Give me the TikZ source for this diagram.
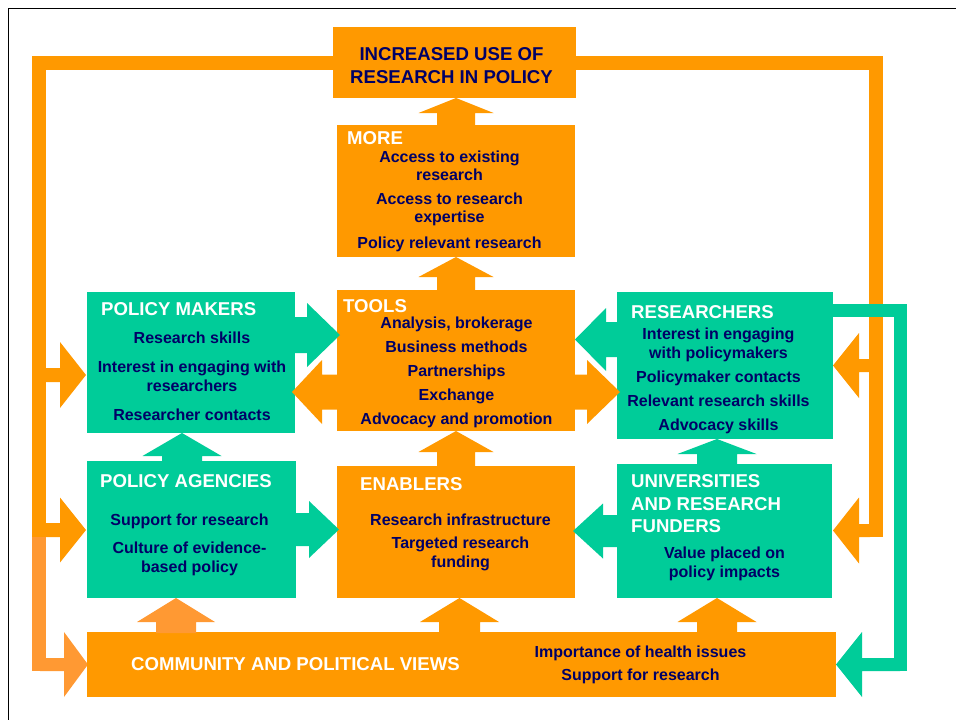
\documentclass[tikz,border=0pt]{standalone}
\usepackage{fontspec}
\setmainfont{Liberation Sans}
\definecolor{og}{HTML}{FF9900}
\definecolor{lo}{HTML}{FF9933}
\definecolor{gr}{HTML}{00CC99}
\definecolor{nv}{HTML}{000066}
% vertical block arrow: color, x centre, y shaft start, y head base, y tip, shaft half width, head half width
\newcommand{\uparr}[7]{\fill[#1] (#2-#6,#3) -- (#2-#6,#4) -- (#2-#7,#4) -- (#2,#5) -- (#2+#7,#4) -- (#2+#6,#4) -- (#2+#6,#3) -- cycle;}
% horizontal block arrow: color, y centre, x shaft start, x head base, x tip, shaft half width, head half width
\newcommand{\harr}[7]{\fill[#1] (#3,#2-#6) -- (#4,#2-#6) -- (#4,#2-#7) -- (#5,#2) -- (#4,#2+#7) -- (#4,#2+#6) -- (#3,#2+#6) -- cycle;}
\begin{document}
\begin{tikzpicture}[x=1pt,y=-1pt,
  box/.style={inner sep=0pt, outer sep=0pt, draw=none},
  ob/.style={box, fill=og},
  gb/.style={box, fill=gr},
  body/.style={font=\fontsize{16}{19}\selectfont\bfseries, text=nv, anchor=base, inner sep=0pt},
  ttl/.style={font=\fontsize{18.6}{22}\selectfont\bfseries, text=nv, anchor=base, inner sep=0pt},
  hd/.style={font=\fontsize{18.6}{22}\selectfont\bfseries, text=white, anchor=base west, inner sep=0pt}]
\useasboundingbox (0,0) rectangle (956,720);
\fill[white] (0,0) rectangle (956,720);
\draw[line width=1.5pt] (8.5,720) -- (8.5,8.5) -- (956,8.5);

% orange feedback loop
\fill[og] (32,56) rectangle (883,70);
\fill[og] (32,56) rectangle (46,537);
\fill[og] (869,56) rectangle (883,537);
\harr{og}{375}{46}{60}{86}{7}{33}
\harr{og}{530}{46}{60}{86}{7}{32.5}
\fill[lo] (32,537) rectangle (46,671);
\harr{lo}{664.5}{40}{64}{88}{6.5}{32.5}
\harr{og}{365.5}{870}{859}{833}{6.5}{32.5}
\harr{og}{530.5}{870}{859}{833}{6.5}{33}

% green feedback loop
\fill[gr] (830,304) rectangle (907,317);
\fill[gr] (894,304) rectangle (907,671);
\harr{gr}{664.5}{900}{862}{836}{6.5}{32.5}

% boxes
\node[ob, minimum width=243, minimum height=71] (top) at (454.5,62.5) {};
\node[ob, minimum width=238, minimum height=132] (more) at (456,191) {};
\node[ob, minimum width=238, minimum height=141] (tools) at (456,360.5) {};
\node[gb, minimum width=208, minimum height=141] (pm) at (191,362.5) {};
\node[gb, minimum width=216, minimum height=147] (res) at (725,365.5) {};
\node[gb, minimum width=209, minimum height=137] (pa) at (191.5,529.5) {};
\node[ob, minimum width=238, minimum height=132] (en) at (456,532) {};
\node[gb, minimum width=215, minimum height=134] (un) at (724.5,531) {};
\node[ob, minimum width=749, minimum height=65] (cm) at (461.5,664.5) {};

% arrows between boxes
\uparr{og}{456}{126}{113}{98}{19}{37.5}
\uparr{og}{456}{291}{277}{257}{19}{37.5}
\uparr{og}{456}{467}{452}{431}{19}{37.5}
\uparr{og}{459.5}{633}{622}{598}{20.5}{39.5}
\uparr{lo}{176}{633}{622}{598}{20}{39}
\uparr{og}{717}{633}{622}{598}{20}{39.5}
\uparr{gr}{717}{465}{454}{439}{20}{39.5}
\uparr{gr}{182}{462}{456}{433}{20}{39.5}
\harr{gr}{335}{294}{307}{340}{18}{32}
\harr{og}{392}{338}{322}{292}{17.5}{32}
\harr{gr}{339.5}{618}{606}{575}{17.5}{31.5}
\harr{og}{392}{574}{587}{620}{17.5}{32}
\harr{gr}{529.5}{295}{309}{339}{16.5}{28.5}
\harr{gr}{531}{618}{603}{573}{16}{27.5}

% texts
\node[ttl] (t1) at (451.5,60) {INCREASED USE OF};
\node[ttl] (t2) at (451.5,83) {RESEARCH IN POLICY};

\node[hd] (moreh) at (347,144) {MORE};
\node[body] (m1) at (449.5,162) {Access to existing};
\node[body] (m2) at (449.5,180) {research};
\node[body] (m3) at (449.5,204) {Access to research};
\node[body] (m4) at (449.5,222) {expertise};
\node[body] (m5) at (449.5,248) {Policy relevant research};

\node[hd] (toolsh) at (343,312) {TOOLS};
\node[body] (o1) at (456.5,328) {Analysis, brokerage};
\node[body] (o2) at (456.5,352) {Business methods};
\node[body] (o3) at (456.5,376) {Partnerships};
\node[body] (o4) at (456.5,400) {Exchange};
\node[body] (o5) at (456.5,424) {Advocacy and promotion};

\node[hd] (pmh) at (101,315) {POLICY MAKERS};
\node[body] (p1) at (192,343) {Research skills};
\node[body] (p2) at (192,372) {Interest in engaging with};
\node[body] (p3) at (192,391) {researchers};
\node[body] (p4) at (192,420) {Researcher contacts};

\node[hd] (resh) at (631,318) {RESEARCHERS};
\node[body] (r1) at (718.5,339) {Interest in engaging};
\node[body] (r2) at (718.5,358) {with policymakers};
\node[body] (r3) at (718.5,382) {Policymaker contacts};
\node[body] (r4) at (718.5,406) {Relevant research skills};
\node[body] (r5) at (718.5,430) {Advocacy skills};

\node[hd] (pah) at (100,487) {POLICY AGENCIES};
\node[body] (a1) at (189.5,525) {Support for research};
\node[body] (a2) at (189.5,553) {Culture of evidence-};
\node[body] (a3) at (189.5,572) {based policy};

\node[hd] (enh) at (360,490) {ENABLERS};
\node[body] (e1) at (460.5,525) {Research infrastructure};
\node[body] (e2) at (460.5,548) {Targeted research};
\node[body] (e3) at (460.5,567) {funding};

\node[hd] (unh1) at (631,487) {UNIVERSITIES};
\node[hd] (unh2) at (631,510) {AND RESEARCH};
\node[hd] (unh3) at (631,532) {FUNDERS};
\node[body] (u1) at (724.5,558) {Value placed on};
\node[body] (u2) at (724.5,577) {policy impacts};

\node[hd] (cmh) at (131,670) {COMMUNITY AND POLITICAL VIEWS};
\node[body] (c1) at (640.5,657) {Importance of health issues};
\node[body] (c2) at (640.5,680) {Support for research};
\end{tikzpicture}
\end{document}
